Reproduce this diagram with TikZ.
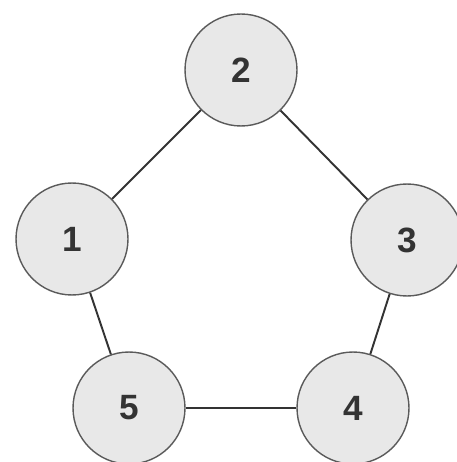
\documentclass[tikz,border=0pt]{standalone}
\usepackage{fontspec}
\setmainfont{Liberation Sans}
\definecolor{nodefill}{HTML}{E8E8E8}
\definecolor{nodeline}{HTML}{5A5A5A}
\definecolor{edgeline}{HTML}{333333}
\begin{document}
\begin{tikzpicture}[x=0.02cm, y=-0.02cm,
        vertex/.style={circle, draw=nodeline, fill=nodefill, line width=0.8pt, minimum size=2.24cm, inner sep=0pt, text=black!80, font=\fontsize{20}{20}\selectfont\bfseries},
        edge/.style={draw=edgeline, line width=1.1pt}
    ]
        \useasboundingbox (0,0) rectangle (456,462);

        % Vertices
        \node[vertex] (v2) at (241,70) {2};
        \node[vertex] (v1) at (72,239) {1};
        \node[vertex] (v3) at (407,240) {3};
        \node[vertex] (v5) at (129,408) {5};
        \node[vertex] (v4) at (353,408) {4};

        % Edges
        \draw[edge] (v1) -- (v2);
        \draw[edge] (v2) -- (v3);
        \draw[edge] (v3) -- (v4);
        \draw[edge] (v4) -- (v5);
        \draw[edge] (v5) -- (v1);
    \end{tikzpicture}
\end{document}
